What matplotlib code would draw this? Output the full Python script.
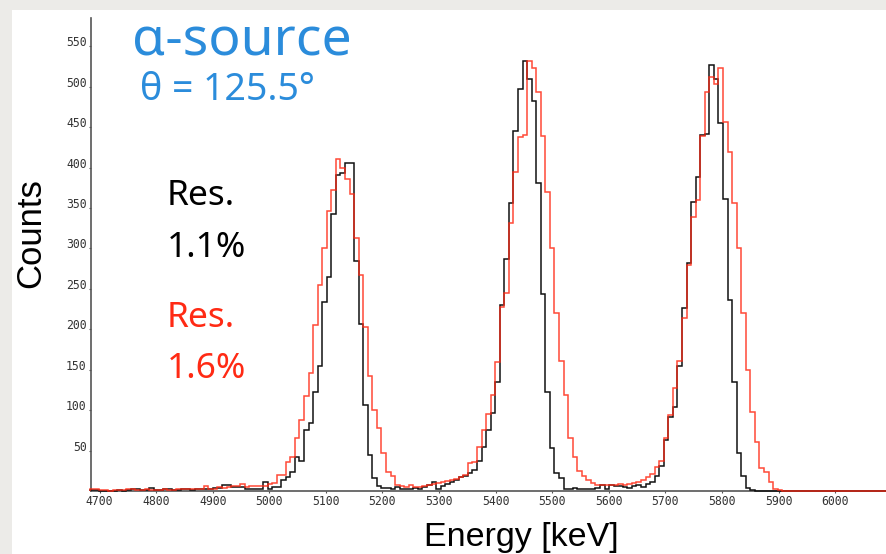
import numpy as np
import matplotlib
matplotlib.use("Agg")
import matplotlib.pyplot as plt
from matplotlib.patches import Rectangle

# Channel binning of the spectra (keV)
bin_start = 4682.9
bin_width = 8.05

# Counts per channel: black = better resolution setup, red = worse resolution
counts_black = [
    1, 1, 0, 0, 0, 0, 1, 0, 1, 2,
    2, 1, 1, 4, 1, 1, 2, 2, 1, 1,
    2, 2, 1, 2, 2, 2, 3, 4, 4, 8,
    8, 5, 5, 5, 3, 3, 3, 3, 11, 3,
    5, 5, 14, 17, 24, 42, 37, 76, 84, 123,
    154, 234, 265, 342, 391, 393, 406, 406, 284, 207,
    106, 45, 16, 6, 4, 4, 3, 5, 3, 3,
    2, 4, 3, 5, 7, 11, 3, 6, 9, 11,
    14, 17, 18, 22, 26, 37, 54, 75, 96, 135,
    230, 287, 356, 445, 497, 532, 510, 482, 381, 244,
    123, 53, 22, 16, 3, 3, 4, 3, 2, 3,
    3, 4, 8, 2, 7, 6, 6, 5, 4, 6,
    7, 5, 9, 11, 19, 31, 63, 92, 104, 154,
    226, 282, 358, 388, 440, 441, 527, 510, 455, 361,
    236, 135, 47, 18, 4, 1, 0, 0, 0, 0,
    0, 0, 0, 0, 0, 0, 0, 0, 0, 0,
    0, 0, 0, 0, 0, 0, 0, 0, 0, 0,
    0, 0, 0, 0, 0,
]
counts_red = [
    2, 2, 1, 1, 0, 1, 1, 1, 2, 2,
    1, 1, 2, 1, 1, 1, 2, 1, 1, 2,
    2, 2, 2, 3, 3, 6, 3, 2, 5, 4,
    5, 6, 6, 9, 5, 6, 6, 6, 6, 9,
    10, 20, 20, 36, 42, 66, 88, 117, 146, 205,
    255, 300, 346, 372, 410, 399, 386, 367, 313, 267,
    203, 142, 100, 78, 47, 24, 18, 8, 6, 5,
    7, 5, 5, 6, 7, 9, 10, 11, 12, 13,
    15, 17, 20, 35, 36, 55, 76, 95, 119, 160,
    228, 245, 331, 395, 438, 440, 532, 523, 493, 439,
    370, 301, 220, 161, 119, 66, 42, 25, 19, 14,
    10, 8, 7, 8, 7, 8, 9, 8, 9, 10,
    11, 14, 17, 21, 30, 37, 66, 94, 127, 161,
    214, 280, 339, 360, 439, 494, 512, 503, 523, 456,
    419, 356, 300, 220, 150, 98, 60, 29, 24, 11,
    3, 1, 0, 0, 0, 0, 0, 0, 0, 0,
    0, 0, 0, 0, 0, 0, 0, 0, 0, 0,
    0, 0, 0, 0, 0,
]

x_ticks = [4700, 4800, 4900, 5000, 5100, 5200, 5300, 5400, 5500,
           5600, 5700, 5800, 5900, 6000]
y_ticks = [50, 100, 150, 200, 250, 300, 350, 400, 450, 500, 550]

W, H = 886, 554
BLUE = "#2b8cdb"
RED = "#ff2a14"


def fx(px):
    return px / W


def fy(py):
    return 1 - py / H


fig = plt.figure(figsize=(W / 100, H / 100), dpi=100)
fig.patch.set_facecolor("#ecebe8")
fig.patches.append(Rectangle((fx(12), 0), 1, fy(10), transform=fig.transFigure,
                             facecolor="white", edgecolor="none", zorder=-10))

ax = fig.add_axes([fx(91), fy(491), fx(886 - 91), (491 - 18) / H])
ax.set_zorder(1)
ax.set_facecolor("none")

edges = bin_start + bin_width * np.arange(len(counts_black) + 1)
ax.stairs(counts_black, edges, color="#111111", lw=1.1, zorder=3, clip_on=False)
ax.stairs(counts_red, edges, color=RED, lw=1.1, alpha=0.85, zorder=4, clip_on=False)

ax.set_xlim(4684.8, 6090)
ax.set_ylim(0, 585)

for side in ("top", "right"):
    ax.spines[side].set_visible(False)
for side in ("left", "bottom"):
    ax.spines[side].set_color("#555555")
    ax.spines[side].set_linewidth(1.2)

ax.set_xticks(x_ticks)
ax.set_yticks(y_ticks)
ax.set_xticklabels([str(v) for v in x_ticks])
ax.set_yticklabels([str(v) for v in y_ticks])
ax.tick_params(axis="both", direction="out", length=1.5, width=0.8,
               color="#555555", labelcolor="#333333", pad=1.6)
for lbl in ax.get_xticklabels() + ax.get_yticklabels():
    lbl.set_fontfamily("DejaVu Sans Mono")
    lbl.set_fontsize(8.3)
for lbl in ax.get_yticklabels():
    lbl.set_verticalalignment("baseline")

# Axis titles
fig.text(fx(31), fy(233), "Counts", rotation=90, ha="center", va="center",
         fontsize=25, family="Liberation Sans", color="black")
fig.text(fx(521), fy(546), "Energy [keV]", ha="center", va="baseline",
         fontsize=24.5, family="Liberation Sans", color="black")

# Source and angle
fig.text(fx(132), fy(55), "α-source", ha="left", va="baseline",
         fontsize=38.5, family="Noto Sans", color=BLUE)
fig.text(fx(140), fy(100), "θ = 125.5°", ha="left", va="baseline",
         fontsize=27, family="Noto Sans", color=BLUE)

# Resolution labels
fig.text(fx(167), fy(205), "Res.", ha="left", va="baseline",
         fontsize=25.5, family="Noto Sans", color="black")
fig.text(fx(167), fy(257), "1.1%", ha="left", va="baseline",
         fontsize=25.5, family="Noto Sans", color="black")
fig.text(fx(167), fy(327), "Res.", ha="left", va="baseline",
         fontsize=25.5, family="Noto Sans", color=RED)
fig.text(fx(167), fy(378), "1.6%", ha="left", va="baseline",
         fontsize=25.5, family="Noto Sans", color=RED)

fig.savefig("out.png", dpi=100, facecolor=fig.get_facecolor())
